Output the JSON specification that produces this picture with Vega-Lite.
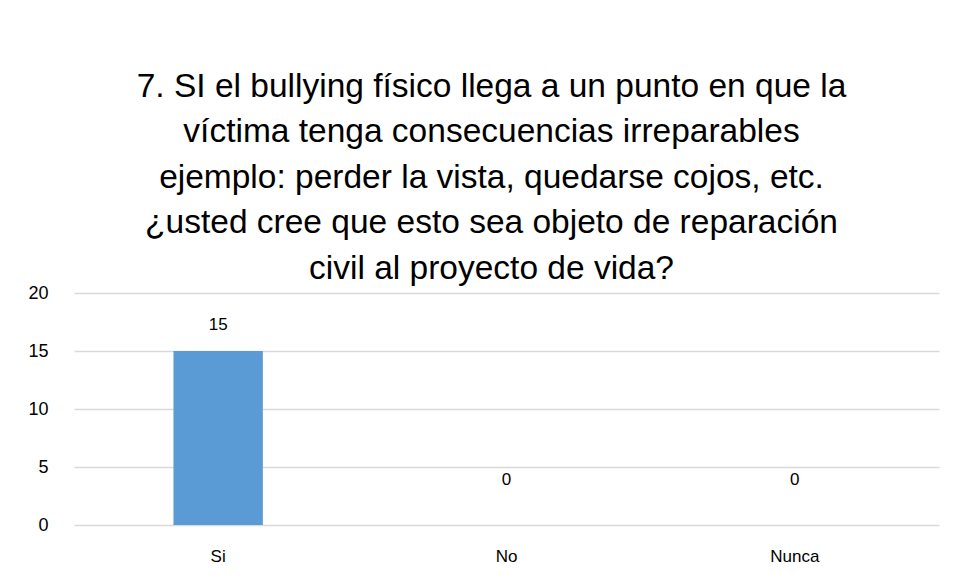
{
  "$schema": "https://vega.github.io/schema/vega-lite/v6.json",
  "width": 865,
  "height": 232,
  "autosize": {"type": "none"},
  "padding": {"left": 74, "top": 293, "right": 19, "bottom": 56},
  "background": "white",
  "title": {
    "text": ["7. SI el bullying físico llega a un punto en que la", "víctima tenga consecuencias irreparables", "ejemplo: perder la vista, quedarse cojos, etc.", "¿usted cree que esto sea objeto de reparación", "civil al proyecto de vida?"],
    "font": "Liberation Sans",
    "fontSize": 33.5,
    "fontWeight": "normal",
    "color": "#000000",
    "lineHeight": 45.5,
    "anchor": "middle",
    "dx": -15,
    "offset": -2
  },
  "data": {
    "values": [
      {"respuesta": "Si", "cantidad": 15},
      {"respuesta": "No", "cantidad": 0},
      {"respuesta": "Nunca", "cantidad": 0}
    ]
  },
  "encoding": {
    "x": {
      "field": "respuesta",
      "type": "nominal",
      "sort": null,
      "scale": {"paddingInner": 0.69, "paddingOuter": 0.345},
      "axis": {"title": null, "labelAngle": 0, "ticks": false, "domain": false, "labelPadding": 23, "labelFont": "Liberation Sans", "labelFontSize": 17, "labelColor": "#000000"}
    },
    "y": {
      "field": "cantidad",
      "type": "quantitative",
      "scale": {"domain": [0, 20]},
      "axis": {"title": null, "values": [0, 5, 10, 15, 20], "ticks": false, "domain": false, "labelPadding": 26, "labelFont": "Liberation Sans", "labelFontSize": 18, "labelColor": "#000000", "gridColor": "#d9d9d9", "gridWidth": 1.3}
    }
  },
  "layer": [
    {"mark": {"type": "bar", "color": "#5B9BD5"}},
    {
      "transform": [{"filter": "datum.cantidad > 0"}],
      "mark": {"type": "text", "dy": -26, "font": "Liberation Sans", "fontSize": 17, "color": "#000000"},
      "encoding": {"text": {"field": "cantidad", "type": "quantitative"}}
    },
    {
      "transform": [{"filter": "datum.cantidad == 0"}],
      "mark": {"type": "text", "dy": -45, "font": "Liberation Sans", "fontSize": 17, "color": "#000000"},
      "encoding": {"text": {"field": "cantidad", "type": "quantitative"}}
    }
  ],
  "config": {"view": {"stroke": null}}
}
